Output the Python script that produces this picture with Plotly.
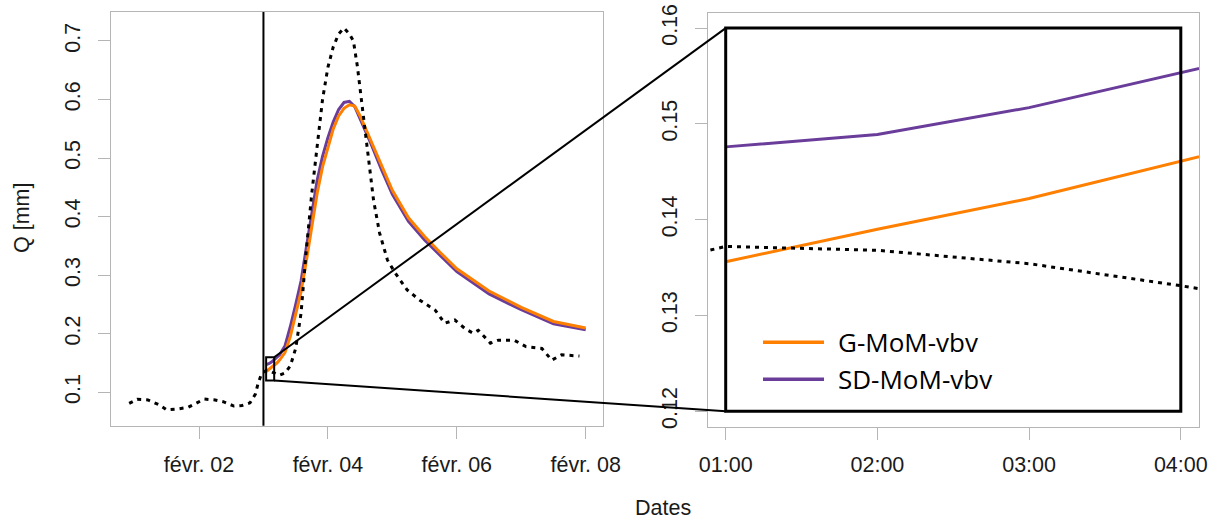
import plotly.graph_objects as go
import pandas as pd

W, H = 1217, 519
OFF = 0  # body margin removed via post_script below

# ---------------- data ----------------
obs_time = [
    "2015-01-31 22:00", "2015-02-01 01:00", "2015-02-01 05:00", "2015-02-01 09:00",
    "2015-02-01 12:00", "2015-02-01 16:00", "2015-02-01 20:00", "2015-02-01 23:00",
    "2015-02-02 02:00", "2015-02-02 06:00", "2015-02-02 09:00", "2015-02-02 13:00",
    "2015-02-02 16:00", "2015-02-02 19:00", "2015-02-02 21:00", "2015-02-02 22:00",
    "2015-02-02 23:00", "2015-02-03 00:00", "2015-02-03 01:00", "2015-02-03 02:00",
    "2015-02-03 03:00", "2015-02-03 04:00", "2015-02-03 05:00", "2015-02-03 06:00",
    "2015-02-03 08:00", "2015-02-03 10:00", "2015-02-03 12:00", "2015-02-03 13:00",
    "2015-02-03 14:00", "2015-02-03 16:00", "2015-02-03 18:00", "2015-02-03 20:00",
    "2015-02-03 22:00", "2015-02-04 00:00", "2015-02-04 02:00", "2015-02-04 04:00",
    "2015-02-04 06:00", "2015-02-04 08:00", "2015-02-04 09:30", "2015-02-04 11:00",
    "2015-02-04 12:30", "2015-02-04 14:00", "2015-02-04 15:30", "2015-02-04 17:00",
    "2015-02-04 19:15", "2015-02-04 22:10", "2015-02-05 01:10", "2015-02-05 05:30",
    "2015-02-05 10:00", "2015-02-05 16:00", "2015-02-05 19:30", "2015-02-05 23:15",
    "2015-02-06 03:00", "2015-02-06 06:00", "2015-02-06 08:00", "2015-02-06 12:30",
    "2015-02-06 15:30", "2015-02-06 21:20", "2015-02-07 01:45", "2015-02-07 07:40",
    "2015-02-07 11:20", "2015-02-07 15:00", "2015-02-07 21:40",
]
obs_q = [
    0.081, 0.088, 0.087, 0.079,
    0.070, 0.0715, 0.0745, 0.081,
    0.0885, 0.087, 0.084, 0.0765,
    0.0775, 0.082, 0.097, 0.115,
    0.128, 0.1335, 0.1372, 0.1368,
    0.1354, 0.1331, 0.1305, 0.1295,
    0.133, 0.145, 0.175, 0.205,
    0.235, 0.345, 0.44, 0.52,
    0.60, 0.655, 0.69, 0.712,
    0.722, 0.712, 0.70, 0.656,
    0.599, 0.542, 0.485, 0.428,
    0.372, 0.326, 0.303, 0.275,
    0.258, 0.240, 0.218, 0.2235,
    0.209, 0.201, 0.206, 0.184,
    0.189, 0.189, 0.178, 0.175,
    0.155, 0.164, 0.162,
]

sim_hours = [1, 2, 3, 4, 5, 6, 8, 10, 12, 14, 16, 18, 20, 22, 24, 26, 28, 30, 32, 34,
             36, 40, 44, 48, 54, 60, 66, 72, 84, 96, 108, 120]
gmom_q = [0.1356, 0.1390, 0.1422, 0.1461, 0.1500, 0.155, 0.168, 0.195, 0.232, 0.272,
          0.325, 0.385, 0.440, 0.485, 0.520, 0.550, 0.572, 0.585, 0.591, 0.589,
          0.572, 0.530, 0.486, 0.445, 0.398, 0.366, 0.338, 0.311, 0.273, 0.245,
          0.221, 0.210]
sdmom_q = [0.1476, 0.1489, 0.1517, 0.1553, 0.1590, 0.164, 0.179, 0.212, 0.250, 0.290,
           0.348, 0.408, 0.462, 0.503, 0.535, 0.562, 0.583, 0.595, 0.597, 0.588,
           0.568, 0.525, 0.480, 0.438, 0.392, 0.360, 0.333, 0.306, 0.268, 0.241,
           0.217, 0.207]
sim_start = "2015-02-03 00:00"
sim_time = [pd.Timestamp(sim_start) + pd.Timedelta(hours=h) for h in sim_hours]

left_xticks = ["2015-02-02", "2015-02-04", "2015-02-06", "2015-02-08"]
left_xticklabels = ["févr. 02", "févr. 04", "févr. 06", "févr. 08"]
left_yticks = [0.1, 0.2, 0.3, 0.4, 0.5, 0.6, 0.7]
left_yticklabels = ["0.1", "0.2", "0.3", "0.4", "0.5", "0.6", "0.7"]

zoom_xticks = ["2015-02-03 01:00", "2015-02-03 02:00", "2015-02-03 03:00", "2015-02-03 04:00"]
zoom_xticklabels = ["01:00", "02:00", "03:00", "04:00"]
zoom_yticks = [0.12, 0.13, 0.14, 0.15, 0.16]
zoom_yticklabels = ["0.12", "0.13", "0.14", "0.15", "0.16"]

cut_time = "2015-02-03 00:00"
box_t0, box_t1 = "2015-02-03 01:00", "2015-02-03 04:00"
box_q0, box_q1 = 0.12, 0.16

series_names = ["G-MoM-vbv", "SD-MoM-vbv"]
ORANGE = "#FF7F00"
PURPLE = "#6A3D9A"

# ---------------- layout geometry ----------------
left_xrange = ["2015-01-31 15:14", "2015-02-08 06:33"]
left_yrange = [0.043, 0.7495]
zoom_xrange = ["2015-02-03 00:52:48", "2015-02-03 04:07:12"]
zoom_yrange = [0.1184, 0.1616]


def px(x):
    return (x - OFF) / W


def py(y):
    return 1 - (y - OFF) / H


left_xdom = [px(111), px(603.3)]
left_ydom = [py(425.7), py(12)]
zoom_xdom = [px(707.5), px(1199)]
zoom_ydom = [py(426.5), py(12.8)]


def t2p(t, rng, dom):
    t0, t1 = pd.Timestamp(rng[0]), pd.Timestamp(rng[1])
    f = (pd.Timestamp(t) - t0) / (t1 - t0)
    return dom[0] + f * (dom[1] - dom[0])


def v2p(v, rng, dom):
    f = (v - rng[0]) / (rng[1] - rng[0])
    return dom[0] + f * (dom[1] - dom[0])


fig = go.Figure()

for xa, ya in (("x", "y"), ("x2", "y2")):
    fig.add_trace(go.Scatter(x=sim_time, y=sdmom_q, mode="lines", xaxis=xa, yaxis=ya,
                             line=dict(color=PURPLE, width=3), showlegend=False,
                             name=series_names[1]))
    fig.add_trace(go.Scatter(x=sim_time, y=gmom_q, mode="lines", xaxis=xa, yaxis=ya,
                             line=dict(color=ORANGE, width=3), showlegend=False,
                             name=series_names[0]))
    fig.add_trace(go.Scatter(x=obs_time, y=obs_q, mode="lines", xaxis=xa, yaxis=ya,
                             line=dict(color="black", width=3, dash="4px,5px"),
                             showlegend=False, name="obs"))

FRAME = "#b5b5b5"
TICKFONT = dict(family="Liberation Sans, Arial, sans-serif", size=21.5, color="#1a1a1a")

common_x = dict(type="date", showgrid=False, zeroline=False, showline=True, mirror=True,
                linecolor=FRAME, linewidth=1, ticks="outside", ticklen=12, tickcolor=FRAME,
                tickwidth=1, tickfont=TICKFONT, ticklabelstandoff=7, automargin=False,
                ticklabeloverflow="allow")
common_y = dict(showgrid=False, zeroline=False, showline=True, mirror=True,
                linecolor=FRAME, linewidth=1, ticks="outside", ticklen=12, tickcolor=FRAME,
                tickwidth=1, tickfont=TICKFONT, tickangle=-90, ticklabelstandoff=9,
                automargin=False, ticklabeloverflow="allow")

fig.update_layout(
    width=W, height=H,
    margin=dict(l=0, r=0, t=0, b=0, autoexpand=False),
    paper_bgcolor="white", plot_bgcolor="white",
    xaxis=dict(common_x, domain=left_xdom, range=left_xrange, tickvals=left_xticks,
               ticktext=left_xticklabels, anchor="y"),
    yaxis=dict(common_y, domain=left_ydom, range=left_yrange, tickvals=left_yticks,
               ticktext=left_yticklabels, anchor="x"),
    xaxis2=dict(common_x, domain=zoom_xdom, range=zoom_xrange, tickvals=zoom_xticks,
                ticktext=zoom_xticklabels, anchor="y2"),
    yaxis2=dict(common_y, domain=zoom_ydom, range=zoom_yrange, tickvals=zoom_yticks,
                ticktext=zoom_yticklabels, anchor="x2"),
    showlegend=False,
)

# vertical line at simulation start
fig.add_shape(type="line", xref="x", yref="y domain", x0=cut_time, x1=cut_time, y0=0, y1=1,
              line=dict(color="black", width=2))
# small box on left panel
fig.add_shape(type="rect", xref="x", yref="y", x0=box_t0, x1=box_t1, y0=box_q0, y1=box_q1,
              line=dict(color="black", width=2))
# big box on zoom panel
fig.add_shape(type="rect", xref="x2", yref="y2", x0=box_t0, x1=box_t1, y0=box_q0, y1=box_q1,
              line=dict(color="black", width=3))
# connector lines
for q in (box_q1, box_q0):
    fig.add_shape(type="line", xref="paper", yref="paper",
                  x0=t2p(box_t1, left_xrange, left_xdom), y0=v2p(q, left_yrange, left_ydom),
                  x1=t2p(box_t0, zoom_xrange, zoom_xdom), y1=v2p(q, zoom_yrange, zoom_ydom),
                  line=dict(color="black", width=2))

# axis titles
fig.add_annotation(text="Q [mm]", xref="paper", yref="paper", x=px(22), y=py(218),
                   xanchor="center", yanchor="middle",
                   showarrow=False, textangle=-90, font=TICKFONT)
fig.add_annotation(text="Dates", xref="paper", yref="paper", x=px(663), y=py(508),
                   xanchor="center", yanchor="middle", showarrow=False, font=TICKFONT)

# legend (drawn manually)
LEGFONT = dict(family="Open Sans, Noto Sans, sans-serif", size=26, color="black")
for name, col, ly in ((series_names[0], ORANGE, 342.3), (series_names[1], PURPLE, 379.3)):
    fig.add_shape(type="line", xref="paper", yref="paper", x0=px(763), x1=px(824),
                  y0=py(ly), y1=py(ly), line=dict(color=col, width=3.5))
    fig.add_annotation(text=name, xref="paper", yref="paper", x=px(836), y=py(ly),
                       xanchor="left", yanchor="middle", showarrow=False, font=LEGFONT)

fig.write_html("out.html", config={"displayModeBar": False},
               post_script="document.body.style.margin='0px';")
